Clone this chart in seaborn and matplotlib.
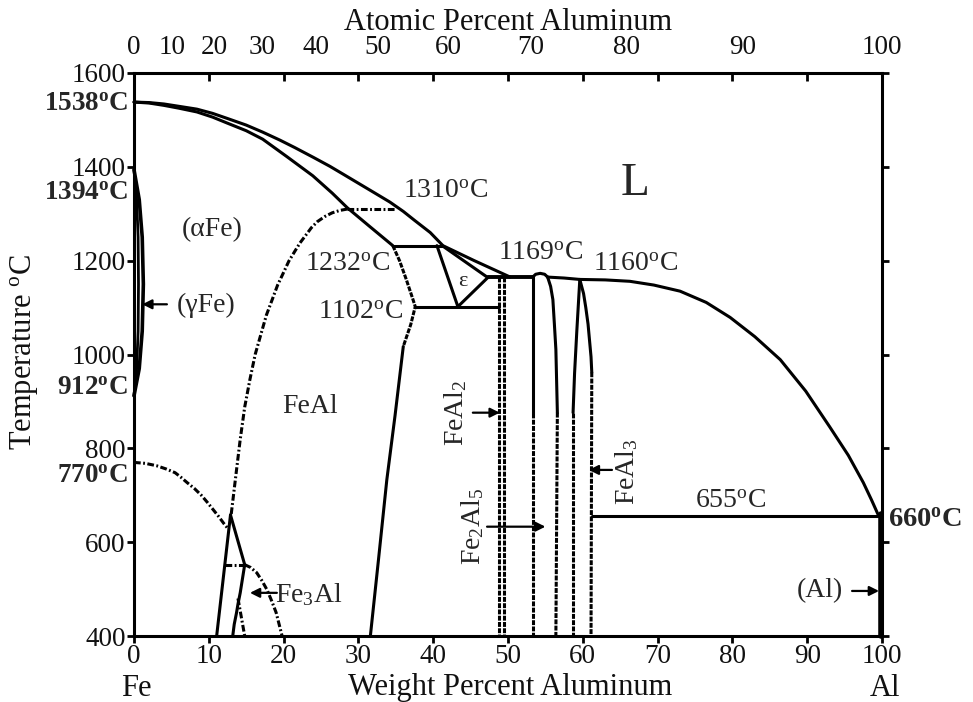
import numpy as np
import pandas as pd
import matplotlib
matplotlib.use("Agg")
import matplotlib.pyplot as plt
import seaborn as sns

# ---------------- data (wt% Al, temperature degC) ----------------
W_TICKS = [0, 10, 20, 30, 40, 50, 60, 70, 80, 90, 100]
T_TICKS = [400, 600, 800, 1000, 1200, 1400, 1600]
AT_PCT = [0, 10, 20, 30, 40, 50, 60, 70, 80, 90, 100]

LIQ_FE_W = [0, 2, 4, 6, 8.4, 10.5, 12.5, 15, 17.2, 19.5, 21.5, 24, 26.2, 28, 30.0,
            32, 34.2, 36, 37.5, 39.6, 41.3, 45.5, 50.3]
LIQ_FE_T = [1538, 1537, 1534, 1529, 1523, 1514, 1503, 1489, 1474, 1457, 1441, 1420,
            1401, 1384, 1365, 1346, 1325, 1305, 1286, 1260, 1232, 1200, 1165]
SOL_FE_W = [0, 2, 4, 6, 8.4, 10.5, 12.5, 15, 17.2, 20.5, 23.9, 26.5, 28.5, 31.5, 34.6]
SOL_FE_T = [1538, 1536, 1531, 1525, 1517, 1506, 1493, 1477, 1459, 1421, 1381, 1344,
            1313, 1273, 1232]

GAMMA_OUT_W = [0, 0.7, 1.1, 1.25, 1.1, 0.7, 0]
GAMMA_OUT_T = [1394, 1330, 1250, 1150, 1050, 970, 912]
GAMMA_IN_W = [0, 0.35, 0.55, 0.6, 0.55, 0.35, 0]
GAMMA_IN_T = [1394, 1330, 1250, 1150, 1050, 970, 912]

PERI_1232_W = [34.6, 41.3]
PERI_1232_T = [1232, 1232]
ORDER_1310_W = [28.5, 35.0]
ORDER_1310_T = [1310, 1310]
B2_W = [13.0, 13.6, 14.2, 14.8, 15.5, 16.2, 17.0, 17.7, 18.5, 19.2, 20.0, 20.7,
        21.5, 22.2, 23.0, 23.7, 24.5, 25.5, 26.5, 27.5, 28.5]
B2_T = [660, 740, 819, 888, 947, 1000, 1045, 1084, 1118, 1148, 1175, 1199,
        1220, 1238, 1255, 1270, 1283, 1294, 1302, 1307, 1310]
CURIE_W = [0, 1.5, 3, 4.3, 5.5, 6.3, 7.1, 8.1, 9.0, 9.8, 10.6, 11.3, 12.0, 12.6]
CURIE_T = [770, 768, 763, 756, 748, 738, 727, 714, 700, 685, 669, 655, 640, 628]

FE3AL_L_W = [11.05, 12.9]
FE3AL_L_T = [400, 658]
FE3AL_R_W = [12.9, 14.8, 14.5, 14.2, 13.9, 13.7, 13.4, 13.2]
FE3AL_R_T = [658, 552, 522, 492, 468, 449, 425, 400]
FE3AL_H_W = [12.2, 14.8]
FE3AL_H_T = [552, 552]
FE3AL_O_W = [14.8, 15.6, 16.4, 17.1, 17.8, 18.4, 19.0, 19.4, 19.8]
FE3AL_O_T = [552, 546, 535, 518, 498, 475, 450, 425, 400]
FE3AL_I_W = [13.9, 14.8]
FE3AL_I_T = [480, 400]

FEAL_DASH_W = [34.6, 35.5, 36.4, 37.3, 37.6, 37.0, 36.0]
FEAL_DASH_T = [1232, 1200, 1160, 1117, 1102, 1064, 1017]
FEAL_SOLID_W = [36.0, 34.9, 33.8, 32.7, 31.6]
FEAL_SOLID_T = [1017, 870, 733, 565, 400]

EPS_A_W = [40.5, 43.3, 47.3]
EPS_A_T = [1232, 1102, 1164]
EPS_B_W = [41.2, 47.3]
EPS_B_T = [1232, 1164]
EUT_1102_W = [37.6, 48.8]
EUT_1102_T = [1102, 1102]
H_1165_W = [47.3, 53.3]
H_1165_T = [1165, 1165]

FEAL2_A_W = [48.8, 48.8]
FEAL2_B_W = [49.5, 49.5]
FEAL2_T = [1165, 400]

FE2AL5_L_W = [53.3, 53.3]
FE2AL5_L_T = [1165, 876]
FE2AL5_LD_W = [53.3, 53.3]
FE2AL5_LD_T = [876, 400]
FE2AL5_TOP_W = [53.3, 53.7, 54.3, 54.9, 55.3]
FE2AL5_TOP_T = [1165, 1171, 1173, 1171, 1165]
FE2AL5_R_W = [55.3, 55.7, 56.0, 56.2, 56.4, 56.6]
FE2AL5_R_T = [1165, 1145, 1117, 1065, 1011, 876]
FE2AL5_RD_W = [56.6, 56.4]
FE2AL5_RD_T = [876, 400]

LIQ_AL_W = [55.3, 57.5, 59.6, 63.0, 66.3, 69.5, 73.0, 76.5, 79.7, 83.0, 86.4, 89.8,
            93.0, 95.5, 97.5, 98.6, 99.5]
LIQ_AL_T = [1165, 1163, 1160, 1159, 1156, 1148, 1135, 1111, 1079, 1038, 989, 922,
            846, 785, 727, 690, 658]

FEAL3_L_W = [59.6, 59.2, 58.9, 58.7]
FEAL3_L_T = [1160, 1050, 960, 876]
FEAL3_LD_W = [58.7, 58.7]
FEAL3_LD_T = [876, 400]
FEAL3_R_W = [59.6, 60.1, 60.4, 60.7, 60.9, 61.1, 61.2]
FEAL3_R_T = [1160, 1130, 1100, 1065, 1030, 995, 962]
FEAL3_RD_W = [61.2, 61.1]
FEAL3_RD_T = [962, 400]

EUT_655_W = [61.2, 99.5]
EUT_655_T = [655, 655]
AL_W = [99.8, 99.8]
AL_T = [660, 400]

# ---------------- style ----------------
sns.set_theme(style="white")
plt.rcParams["font.family"] = ["Liberation Serif", "DejaVu Serif"]
plt.rcParams["mathtext.fontset"] = "custom"
plt.rcParams["mathtext.rm"] = "Liberation Serif"
plt.rcParams["mathtext.it"] = "Liberation Serif:italic"
plt.rcParams["mathtext.bf"] = "Liberation Serif:bold"

fig = plt.figure(figsize=(9.73, 7.02), dpi=100)
ax = fig.add_axes([134 / 973, 1 - 636 / 702, 748 / 973, 563 / 702])

LW = 2.2
SOLID = "-"
DASH = (0, (1.6, 0.45))
DASHDOT = (0, (2.2, 0.8, 0.6, 0.8))


def draw(w, t, ls=SOLID, lw=LW):
    df = pd.DataFrame({"w": w, "T": t})
    sns.lineplot(data=df, x="w", y="T", ax=ax, sort=False, estimator=None,
                 color="black", linewidth=lw, linestyle=ls, clip_on=False)


draw(LIQ_FE_W, LIQ_FE_T)
draw(SOL_FE_W, SOL_FE_T)
draw(GAMMA_OUT_W, GAMMA_OUT_T, lw=2.6)
draw(GAMMA_IN_W, GAMMA_IN_T, lw=2.0)
draw(PERI_1232_W, PERI_1232_T)
draw(ORDER_1310_W, ORDER_1310_T, DASHDOT)
draw(B2_W, B2_T, DASHDOT)
draw(CURIE_W, CURIE_T, DASHDOT)
draw(FE3AL_L_W, FE3AL_L_T)
draw(FE3AL_R_W, FE3AL_R_T)
draw(FE3AL_H_W, FE3AL_H_T, DASHDOT)
draw(FE3AL_O_W, FE3AL_O_T, DASHDOT)
draw(FE3AL_I_W, FE3AL_I_T, DASHDOT)
draw(FEAL_DASH_W, FEAL_DASH_T, DASH)
draw(FEAL_SOLID_W, FEAL_SOLID_T)
draw(EPS_A_W, EPS_A_T)
draw(EPS_B_W, EPS_B_T)
draw(EUT_1102_W, EUT_1102_T)
draw(H_1165_W, H_1165_T, lw=2.8)
draw(FEAL2_A_W, FEAL2_T, DASH)
draw(FEAL2_B_W, FEAL2_T, DASH)
draw(FE2AL5_L_W, FE2AL5_L_T)
draw(FE2AL5_LD_W, FE2AL5_LD_T, DASH)
draw(FE2AL5_TOP_W, FE2AL5_TOP_T)
draw(FE2AL5_R_W, FE2AL5_R_T)
draw(FE2AL5_RD_W, FE2AL5_RD_T, DASH)
draw(LIQ_AL_W, LIQ_AL_T)
draw(FEAL3_L_W, FEAL3_L_T)
draw(FEAL3_LD_W, FEAL3_LD_T, DASH)
draw(FEAL3_R_W, FEAL3_R_T)
draw(FEAL3_RD_W, FEAL3_RD_T, DASH)
draw(EUT_655_W, EUT_655_T)
draw(AL_W, AL_T, lw=4.0)

# ---------------- axes ----------------
ax.set_xlim(0, 100)
ax.set_ylim(400, 1600)
ax.set_xticks(W_TICKS)
ax.set_xticklabels([str(v) for v in W_TICKS])
ax.set_yticks(T_TICKS)
ax.set_yticklabels([str(v) for v in T_TICKS])
ax.set_xlabel("")
ax.set_ylabel("")
for s in ax.spines.values():
    s.set_color("black")
    s.set_linewidth(2.2)
ax.tick_params(axis="both", which="major", direction="out", length=5, width=2,
               color="black", labelsize=19.5, labelcolor="#111111", pad=1,
               bottom=True, left=True, right=True, top=False, labelright=False)

# top axis: atomic percent labels at converted positions, inward ticks at wt%
M_FE, M_AL = 55.845, 26.982


def at_to_wt(a):
    a = np.asarray(a, dtype=float)
    return 100 * a * M_AL / (a * M_AL + (100 - a) * M_FE)


ax2 = ax.twiny()
ax2.set_xlim(0, 100)
ax2.set_xticks(at_to_wt(AT_PCT))
ax2.set_xticklabels([str(v) for v in AT_PCT])
ax2.set_xticks(W_TICKS[1:-1], minor=True)
ax2.tick_params(axis="x", which="major", length=0, labelsize=19.5,
                labelcolor="#111111", pad=9, top=True, bottom=False)
ax2.tick_params(axis="x", which="minor", direction="in", length=6, width=2,
                color="black", top=True, bottom=False)
for s in ax2.spines.values():
    s.set_visible(False)

# ---------------- texts ----------------
deg = r"$^{\rm o}$C"
bdeg = r"$^{\mathbf{o}}$C"
FS = 20

ax.text(67.0, 1363, "L", fontsize=34, ha="center", va="center")
ax.text(41.7, 1348, "1310" + deg, fontsize=FS, ha="center", va="center")
ax.text(10.4, 1267, "(αFe)", fontsize=FS, ha="center", va="center")
ax.text(28.5, 1192, "1232" + deg, fontsize=FS, ha="center", va="center")
ax.text(30.3, 1090, "1102" + deg, fontsize=FS, ha="center", va="center")
ax.text(44.0, 1156, "ε", fontsize=16, ha="center", va="center")
ax.text(54.4, 1216, "1169" + deg, fontsize=FS, ha="center", va="center")
ax.text(67.0, 1192, "1160" + deg, fontsize=FS, ha="center", va="center")
ax.text(9.6, 1105, "(γFe)", fontsize=FS, ha="center", va="center")
ax.text(23.5, 889, "FeAl", fontsize=FS, ha="center", va="center")
ax.text(43.0, 876, r"FeAl$_2$", fontsize=FS, ha="center", va="center", rotation=90)
ax.text(45.3, 633, r"Fe$_2$Al$_5$", fontsize=FS, ha="center", va="center", rotation=90)
ax.text(65.8, 750, r"FeAl$_3$", fontsize=FS, ha="center", va="center", rotation=90)
ax.text(79.7, 686, "655" + deg, fontsize=FS, ha="center", va="center")
ax.text(91.7, 496, "(Al)", fontsize=FS, ha="center", va="center")
ax.text(23.3, 488, r"Fe$_3$Al", fontsize=FS, ha="center", va="center")
ax.text(100.8, 646, "660" + bdeg, fontsize=20.5, fontweight="bold",
        ha="left", va="center", clip_on=False)

for T_lab, y_lab in [(1538, 1532), (1394, 1344), (912, 928), (770, 740)]:
    ax.text(-0.8, y_lab, f"{T_lab}" + bdeg, fontsize=19.5, fontweight="bold",
            ha="right", va="center", clip_on=False)

arrow = dict(arrowstyle="-|>", color="black", lw=1.6, mutation_scale=14,
             shrinkA=0, shrinkB=0)
ax.annotate("", xy=(1.1, 1107), xytext=(4.4, 1107), arrowprops=arrow)
ax.annotate("", xy=(48.9, 876), xytext=(45.3, 876), arrowprops=arrow)
ax.annotate("", xy=(55.0, 633), xytext=(47.2, 633), arrowprops=arrow)
ax.annotate("", xy=(60.8, 754), xytext=(63.9, 754), arrowprops=arrow)
ax.annotate("", xy=(99.6, 496), xytext=(96.0, 496), arrowprops=arrow)
ax.annotate("", xy=(15.5, 492), xytext=(19.1, 492), arrowprops=arrow)

fig.text(508 / 973, 1 - 22 / 702, "Atomic Percent Aluminum", fontsize=22,
         ha="center", va="center", color="#111111")
fig.text(510 / 973, 1 - 688 / 702, "Weight Percent Aluminum", fontsize=22,
         ha="center", va="center", color="#111111")
fig.text(136 / 973, 1 - 688 / 702, "Fe", fontsize=22, ha="center", va="center",
         color="#111111")
fig.text(885 / 973, 1 - 688 / 702, "Al", fontsize=22, ha="center", va="center",
         color="#111111")
fig.text(24 / 973, 1 - 352 / 702, "Temperature " + r"$^{\rm o}$C", fontsize=22,
         rotation=90, ha="center", va="center", color="#111111")

fig.savefig("out.png", dpi=100, facecolor="white")
